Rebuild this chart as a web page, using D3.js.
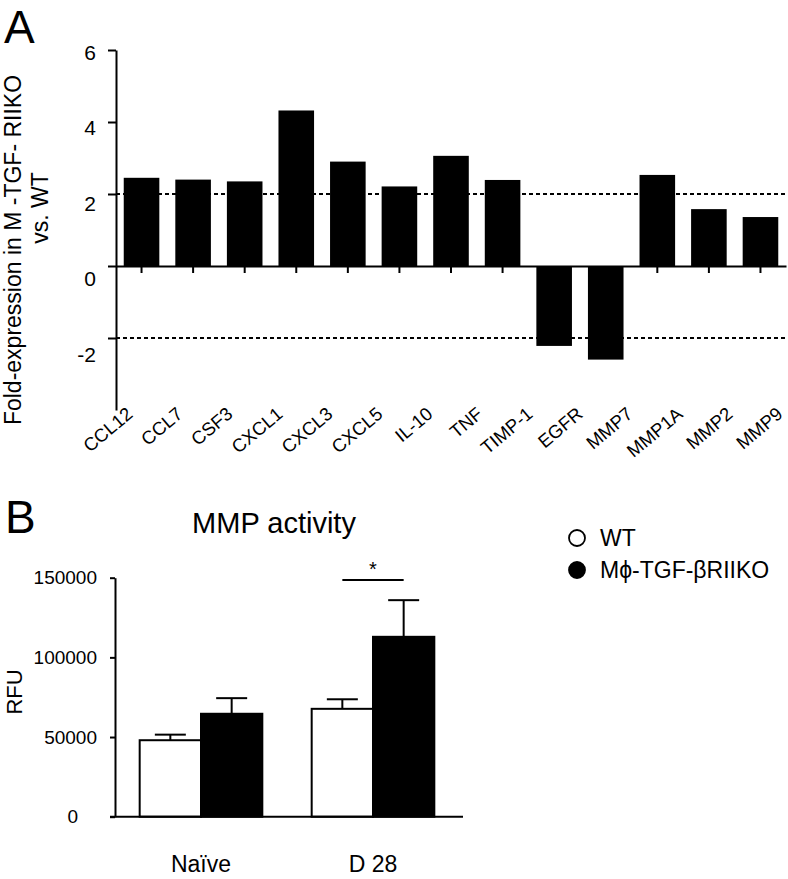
<!DOCTYPE html>
<html>
<head>
<meta charset="utf-8">
<script src="https://cdn.jsdelivr.net/npm/d3@7"></script>
<style>
  html, body { margin: 0; padding: 0; background: #fff; }
  svg text { font-family: "Liberation Sans", Arial, Helvetica, sans-serif; fill: #000; }
</style>
</head>
<body>
<div id="chart"></div>
<script>
// ---- Panel A data ----
const geneLabels = ["CCL12", "CCL7", "CSF3", "CXCL1", "CXCL3", "CXCL5", "IL-10", "TNF",
  "TIMP-1", "EGFR", "MMP7", "MMP1A", "MMP2", "MMP9"];
const foldValues = [2.45, 2.4, 2.35, 4.32, 2.9, 2.21, 3.06, 2.39, -2.22, -2.6, 2.53, 1.58, 1.36];
const foldTicks = [6, 4, 2, 0, -2];
const cutoffs = [2, -2];

// ---- Panel B data ----
const groups = ["Naïve", "D 28"];
const seriesNames = ["WT", "Mϕ-TGF-βRIIKO"];
const wtMean = [48000, 67700];
const wtSem = [3500, 6000];
const koMean = [64600, 112900];
const koSem = [9800, 23000];
const rfuTicks = [0, 50000, 100000, 150000];
const sigLevel = 148500;

const W = 788, H = 879;
const svg = d3.select("#chart").append("svg").attr("width", W).attr("height", H);

// ========== PANEL A ==========
const yA = d3.scaleLinear().domain([-4, 6]).range([410, 50]);
// tick labels in the figure sit slightly off their ticks
const yALab = d3.scaleLinear().domain([-2, 6]).range([354, 52]);
const xA = d3.scaleBand().domain(d3.range(foldValues.length)).range([116, 786])
  .paddingInner(0.31).paddingOuter(0.15);
const xALab = d3.scalePoint().domain(geneLabels).range([134, 784]);

svg.append("text").attr("x", 4).attr("y", 43)
  .attr("font-size", "46px").text("A");

const gA = svg.append("g");

// dashed cut-off lines
gA.selectAll(".cut").data(cutoffs).join("line")
  .attr("x1", xA.range()[0]).attr("x2", W)
  .attr("y1", d => yA(d)).attr("y2", d => yA(d))
  .attr("stroke", "#000").attr("stroke-width", 2.2).attr("stroke-dasharray", "4,3");

// x axis at zero with ticks under bars
const xAxisA = gA.append("g").attr("transform", `translate(0,${yA(0)})`)
  .call(d3.axisBottom(xA).tickSize(7).tickSizeOuter(0).tickFormat(""));
xAxisA.selectAll("path,line").attr("stroke", "#000").attr("stroke-width", 2);

// bars
gA.selectAll(".bar").data(foldValues).join("rect")
  .attr("x", (d, i) => xA(i))
  .attr("width", xA.bandwidth())
  .attr("y", d => yA(Math.max(0, d)))
  .attr("height", d => Math.abs(yA(d) - yA(0)))
  .attr("fill", "#000");

// y axis
const yAxisA = gA.append("g").attr("transform", `translate(${xA.range()[0]},0)`)
  .call(d3.axisLeft(yA).tickValues(foldTicks).tickSize(8).tickSizeOuter(0).tickPadding(12)
    .tickFormat(d => String(d)));
yAxisA.selectAll("path,line").attr("stroke", "#000").attr("stroke-width", 2);
yAxisA.selectAll("text")
  .attr("font-size", "21px")
  .attr("dy", d => (yALab(d) - yA(d)) + 7 + "px");

// rotated gene labels
gA.selectAll(".glab").data(geneLabels).join("text")
  .attr("transform", d => `translate(${xALab(d)},416) rotate(-40)`)
  .attr("text-anchor", "end")
  .attr("font-size", "18.5px")
  .text(d => d);

// y title
gA.append("text").attr("transform", "translate(21,250) rotate(-90)")
  .attr("text-anchor", "middle").attr("font-size", "23px")
  .text("Fold-expression in M -TGF- RIIKO");
gA.append("text").attr("transform", "translate(48,208) rotate(-90)")
  .attr("text-anchor", "middle").attr("font-size", "23px")
  .text("vs. WT");

// ========== PANEL B ==========
const yB = d3.scaleLinear().domain([0, 150000]).range([816.7, 577.7]);
const xB = d3.scaleBand().domain(groups).range([115, 459]).paddingInner(0.287).paddingOuter(0.1435);
const xSub = d3.scaleBand().domain(seriesNames).range([0, xB.bandwidth()]);

svg.append("text").attr("x", 5).attr("y", 533)
  .attr("font-size", "46px").text("B");
svg.append("text").attr("x", 274).attr("y", 533).attr("text-anchor", "middle")
  .attr("font-size", "29px").text("MMP activity");

const gB = svg.append("g");

const barsB = [];
groups.forEach((g, i) => {
  barsB.push({ group: g, series: seriesNames[0], mean: wtMean[i], sem: wtSem[i] });
  barsB.push({ group: g, series: seriesNames[1], mean: koMean[i], sem: koSem[i] });
});

// error bars (upper only)
const capW = 31;
barsB.forEach(b => {
  const cx = xB(b.group) + xSub(b.series) + xSub.bandwidth() / 2;
  gB.append("line").attr("x1", cx).attr("x2", cx)
    .attr("y1", yB(b.mean)).attr("y2", yB(b.mean + b.sem))
    .attr("stroke", "#000").attr("stroke-width", 2);
  gB.append("line").attr("x1", cx - capW / 2).attr("x2", cx + capW / 2)
    .attr("y1", yB(b.mean + b.sem)).attr("y2", yB(b.mean + b.sem))
    .attr("stroke", "#000").attr("stroke-width", 2);
});

gB.selectAll(".barB").data(barsB).join("rect")
  .attr("x", d => xB(d.group) + xSub(d.series))
  .attr("width", xSub.bandwidth())
  .attr("y", d => yB(d.mean))
  .attr("height", d => yB(0) - yB(d.mean))
  .attr("fill", d => d.series === seriesNames[0] ? "#fff" : "#000")
  .attr("stroke", "#000").attr("stroke-width", 2);

// x axis line
gB.append("line")
  .attr("x1", xB.range()[0] - 5).attr("x2", xB.range()[1] + 4)
  .attr("y1", yB(0)).attr("y2", yB(0))
  .attr("stroke", "#000").attr("stroke-width", 2);

// y axis
const yAxisB = gB.append("g").attr("transform", `translate(${xB.range()[0]},0)`)
  .call(d3.axisLeft(yB).tickValues(rfuTicks).tickSize(5).tickSizeOuter(0).tickPadding(13)
    .tickFormat(d3.format("d")));
yAxisB.selectAll("path,line").attr("stroke", "#000").attr("stroke-width", 2);
yAxisB.selectAll("text").attr("font-size", "19px")
  .attr("dx", d => d === 0 ? "-19px" : "0px");

// group labels
gB.selectAll(".grp").data(groups).join("text")
  .attr("x", d => xB(d) + xB.bandwidth() / 2)
  .attr("y", 872).attr("text-anchor", "middle").attr("font-size", "23px")
  .text(d => d);

// significance
const c1 = xB(groups[1]) + xSub(seriesNames[0]) + xSub.bandwidth() / 2;
const c2 = xB(groups[1]) + xSub(seriesNames[1]) + xSub.bandwidth() / 2;
gB.append("line").attr("x1", c1).attr("x2", c2)
  .attr("y1", yB(sigLevel)).attr("y2", yB(sigLevel))
  .attr("stroke", "#000").attr("stroke-width", 2);
gB.append("text").attr("x", (c1 + c2) / 2).attr("y", yB(sigLevel) - 4)
  .attr("text-anchor", "middle").attr("font-size", "20px").text("*");

// RFU
gB.append("text").attr("transform", "translate(22,692) rotate(-90)")
  .attr("text-anchor", "middle").attr("font-size", "22px").text("RFU");

// legend
const legend = svg.append("g").attr("transform", "translate(577,538)");
seriesNames.forEach((s, i) => {
  const row = legend.append("g").attr("transform", `translate(0,${i * 32})`);
  row.append("circle").attr("r", 8)
    .attr("fill", i === 0 ? "#fff" : "#000")
    .attr("stroke", "#000").attr("stroke-width", 1.8);
  row.append("text").attr("x", 23).attr("y", 8).attr("font-size", "23px").text(s);
});
</script>
</body>
</html>
